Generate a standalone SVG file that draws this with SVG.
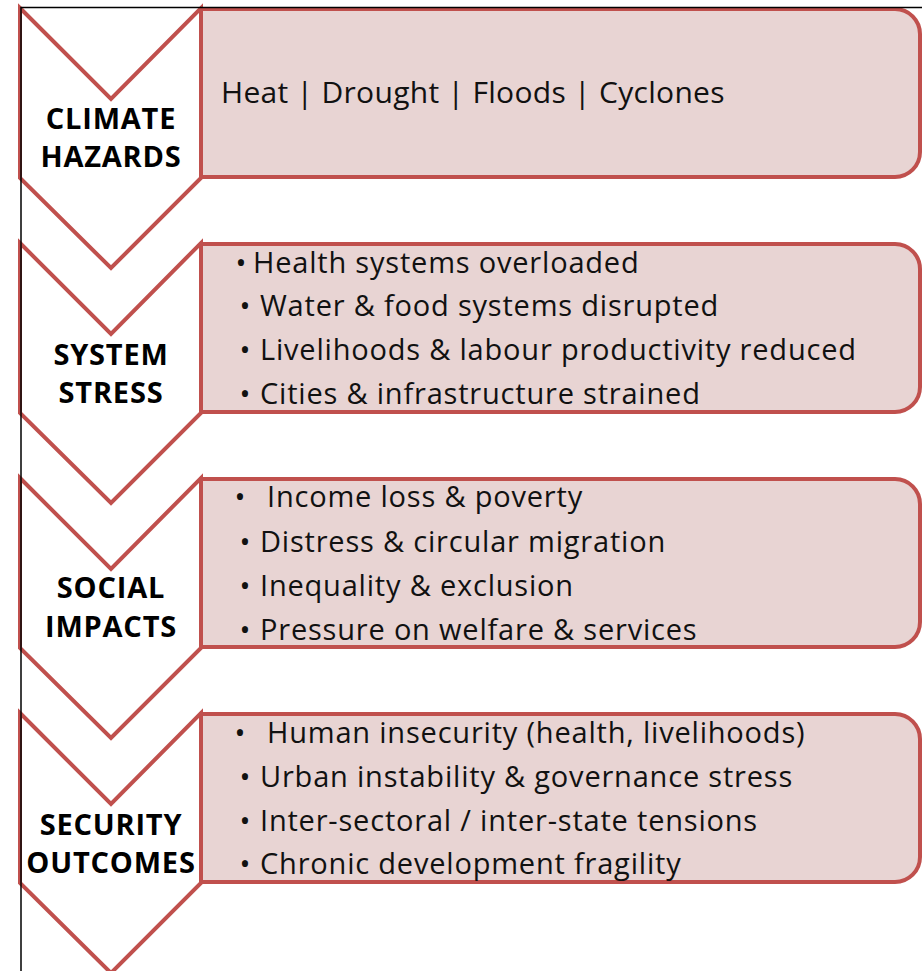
<svg xmlns="http://www.w3.org/2000/svg" width="922" height="971" viewBox="0 0 922 971">
<style>
.chev{fill:#fff;stroke:#C0504D;stroke-width:4}
.box{fill:#E8D4D3;stroke:#C0504D;stroke-width:4}
.lbl{font-family:"Open Sans","Noto Sans",sans-serif;font-weight:bold;font-size:29px;letter-spacing:0.8px;fill:#000;text-anchor:middle}
.txt{font-family:"Open Sans","Noto Sans",sans-serif;font-size:29px;letter-spacing:0.8px;fill:#111}
.bul{font-family:"Open Sans","Noto Sans",sans-serif;font-size:29px;fill:#111;text-anchor:middle}
</style>
<rect width="922" height="971" fill="#fff"/>
<g id="stage1">
<path class="chev" d="M20,8 L111,99 L201,8 V178 L111,268 L20,178 Z"/>
<path class="box" d="M201,9 H895 A25,25 0 0 1 920,34 V152 A25,25 0 0 1 895,177 H201 Z"/>
<text class="lbl" x="111" y="129">CLIMATE</text>
<text class="lbl" x="111" y="167">HAZARDS</text>
<text class="txt" x="221" y="103" style="font-size:30px;letter-spacing:0.3px">Heat | Drought | Floods | Cyclones</text>
</g>
<g id="stage2">
<path class="chev" d="M20,243 L111,334 L201,243 V413 L111,503 L20,413 Z"/>
<path class="box" d="M201,244 H895 A25,25 0 0 1 920,269 V387 A25,25 0 0 1 895,412 H201 Z"/>
<text class="lbl" x="111" y="365">SYSTEM</text>
<text class="lbl" x="111" y="403">STRESS</text>
<text class="bul" x="241" y="273">•</text><text class="txt" x="253" y="273">Health systems overloaded</text>
<text class="bul" x="245" y="316">•</text><text class="txt" x="260" y="316">Water &amp; food systems disrupted</text>
<text class="bul" x="245" y="360">•</text><text class="txt" x="260" y="360">Livelihoods &amp; labour productivity reduced</text>
<text class="bul" x="245" y="404">•</text><text class="txt" x="260" y="404">Cities &amp; infrastructure strained</text>
</g>
<g id="stage3">
<path class="chev" d="M20,478 L111,569 L201,478 V648 L111,738 L20,648 Z"/>
<path class="box" d="M201,479 H895 A25,25 0 0 1 920,504 V622 A25,25 0 0 1 895,647 H201 Z"/>
<text class="lbl" x="111" y="598">SOCIAL</text>
<text class="lbl" x="111" y="637">IMPACTS</text>
<text class="bul" x="240" y="507">•</text><text class="txt" x="267" y="507">Income loss &amp; poverty</text>
<text class="bul" x="245" y="552">•</text><text class="txt" x="260" y="552">Distress &amp; circular migration</text>
<text class="bul" x="245" y="596">•</text><text class="txt" x="260" y="596">Inequality &amp; exclusion</text>
<text class="bul" x="245" y="640">•</text><text class="txt" x="260" y="640">Pressure on welfare &amp; services</text>
</g>
<g id="stage4">
<path class="chev" d="M20,713 L111,804 L201,713 V883 L111,973 L20,883 Z"/>
<path class="box" d="M201,714 H895 A25,25 0 0 1 920,739 V857 A25,25 0 0 1 895,882 H201 Z"/>
<text class="lbl" x="111" y="835">SECURITY</text>
<text class="lbl" x="111" y="873">OUTCOMES</text>
<text class="bul" x="240" y="743">•</text><text class="txt" x="267" y="743">Human insecurity (health, livelihoods)</text>
<text class="bul" x="245" y="787">•</text><text class="txt" x="260" y="787">Urban instability &amp; governance stress</text>
<text class="bul" x="245" y="831">•</text><text class="txt" x="260" y="831">Inter-sectoral / inter-state tensions</text>
<text class="bul" x="245" y="874">•</text><text class="txt" x="260" y="874">Chronic development fragility</text>
</g>
<g id="connectors">
<path d="M21,971 V7.5 H922" fill="none" stroke="#000" stroke-width="1.5"/>
</g>
</svg>
